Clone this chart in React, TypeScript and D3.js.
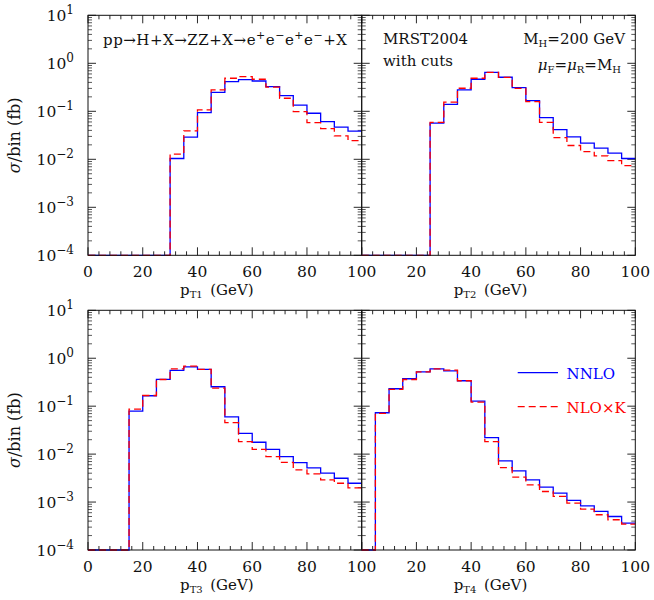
import React from 'react';
import * as d3 from 'd3';

// bin edges: 0..100 GeV in 5 GeV bins, values in fb per bin (0 = empty bin)
const binEdges = d3.range(0, 101, 5);

const nnloPT1 = [0, 0, 0, 0, 0, 0, 0.0104, 0.0289, 0.094, 0.249, 0.415, 0.456, 0.428, 0.327, 0.212, 0.134, 0.091, 0.061, 0.047, 0.0386];
const nloPT1 = [0, 0, 0, 0, 0, 0, 0.0128, 0.039, 0.107, 0.279, 0.488, 0.526, 0.465, 0.32, 0.187, 0.0986, 0.058, 0.0437, 0.0308, 0.0246];

const nnloPT2 = [0, 0, 0, 0, 0, 0.0566, 0.14, 0.279, 0.465, 0.65, 0.512, 0.311, 0.167, 0.074, 0.0417, 0.0294, 0.0217, 0.0171, 0.0135, 0.0104];
const nloPT2 = [0, 0, 0, 0, 0, 0.059, 0.155, 0.302, 0.488, 0.65, 0.51, 0.3, 0.159, 0.059, 0.0284, 0.0194, 0.0145, 0.0118, 0.0094, 0.0074];

const nnloPT3 = [0, 0, 0, 0.079, 0.165, 0.361, 0.556, 0.662, 0.583, 0.254, 0.06, 0.0272, 0.0177, 0.0126, 0.0089, 0.00667, 0.00516, 0.004, 0.00314, 0.00247];
const nloPT3 = [0, 0, 0, 0.087, 0.167, 0.36, 0.601, 0.684, 0.583, 0.238, 0.0453, 0.0182, 0.0126, 0.0089, 0.0067, 0.00469, 0.00387, 0.0029, 0.00247, 0.00198];

const nnloPT4 = [0, 0.073, 0.231, 0.373, 0.521, 0.601, 0.547, 0.339, 0.128, 0.0221, 0.00722, 0.00448, 0.0029, 0.00205, 0.00153, 0.00108, 0.000836, 0.000637, 0.0005, 0.000364];
const nloPT4 = [0, 0.071, 0.224, 0.36, 0.52, 0.6, 0.565, 0.339, 0.122, 0.0182, 0.00525, 0.0033, 0.00229, 0.00166, 0.00131, 0.00095, 0.000713, 0.000543, 0.000428, 0.000347];

const xTickLabels = [0, 20, 40, 60, 80, 100];
const decades = [-4, -3, -2, -1, 0, 1];

const panels = [
  { row: 0, col: 0, sub: 'T1', nnlo: nnloPT1, nlo: nloPT1 },
  { row: 0, col: 1, sub: 'T2', nnlo: nnloPT2, nlo: nloPT2 },
  { row: 1, col: 0, sub: 'T3', nnlo: nnloPT3, nlo: nloPT3 },
  { row: 1, col: 1, sub: 'T4', nnlo: nnloPT4, nlo: nloPT4 },
];

const colX = [[88, 361.7], [361.7, 635.3]];
const rowY = [[15.3, 255.3], [310.3, 550]];

const FONT = 'DejaVu Serif';
const INK = '#111';
const BLUE = '#0000ff';
const RED = '#ff0000';

const stepPath = (vals: number[], x: any, y: any) => {
  const pts = vals.map((v, i) => [binEdges[i], v]);
  pts.push([binEdges[binEdges.length - 1], vals[vals.length - 1]]);
  return d3.line<number[]>()
    .x(d => x(d[0]))
    .y(d => y(Math.max(d[1], 1e-4)))
    .curve(d3.curveStepAfter)(pts);
};

const Panel = ({ p }: any) => {
  const [x0, x1] = colX[p.col];
  const [y0, y1] = rowY[p.row];
  const x = d3.scaleLinear().domain([0, 100]).range([x0, x1]);
  const y = d3.scaleLog().domain([1e-4, 10]).range([y1, y0]).clamp(true);

  const xt = d3.range(0, 101, 4);
  const yMinor: number[] = [];
  decades.slice(0, -1).forEach(e => {
    for (let k = 2; k <= 9; k++) yMinor.push(k * Math.pow(10, e));
  });

  return (
    <g>
      {/* x ticks bottom and top */}
      {xt.map(v => {
        const len = v % 20 === 0 ? 8 : 4;
        return (
          <g key={'x' + v} stroke={INK} strokeWidth={0.9}>
            <line x1={x(v)} x2={x(v)} y1={y1} y2={y1 - len} />
            <line x1={x(v)} x2={x(v)} y1={y0} y2={y0 + len} />
          </g>
        );
      })}
      {/* y ticks left and right */}
      {decades.map(e => (
        <g key={'ym' + e} stroke={INK} strokeWidth={0.9}>
          <line x1={x0} x2={x0 + 8} y1={y(Math.pow(10, e))} y2={y(Math.pow(10, e))} />
          <line x1={x1} x2={x1 - 8} y1={y(Math.pow(10, e))} y2={y(Math.pow(10, e))} />
        </g>
      ))}
      {yMinor.map((v, i) => (
        <g key={'yn' + i} stroke={INK} strokeWidth={0.7}>
          <line x1={x0} x2={x0 + 4} y1={y(v)} y2={y(v)} />
          <line x1={x1} x2={x1 - 4} y1={y(v)} y2={y(v)} />
        </g>
      ))}

      <path d={stepPath(p.nnlo, x, y) || ''} fill="none" stroke={BLUE} strokeWidth={1.3} />
      <path d={stepPath(p.nlo, x, y) || ''} fill="none" stroke={RED} strokeWidth={1.3} strokeDasharray="7,4" />

      <rect x={x0} y={y0} width={x1 - x0} height={y1 - y0} fill="none" stroke={INK} strokeWidth={1} />

      {/* x tick labels */}
      {xTickLabels.filter(v => p.col === 0 || v !== 0).map(v => (
        <text key={'xl' + v} x={x(v)} y={y1 + 21.5} textAnchor="middle" fontSize={15.5} fill={INK}>{v}</text>
      ))}
      {/* y tick labels */}
      {p.col === 0 && decades.map(e => (
        <text key={'yl' + e} x={74} y={y(Math.pow(10, e)) + 5.5} textAnchor="end" fontSize={15.5} fill={INK}>
          10<tspan fontSize={12} dy={-7}>{e < 0 ? '\u2212' + (-e) : e}</tspan>
        </text>
      ))}
      {/* x axis title */}
      <text x={(x0 + x1) / 2 - 8} y={y1 + 39.5} textAnchor="middle" fontSize={15} fill={INK}>
        p<tspan fontSize={10} dy={3}>{p.sub}</tspan><tspan dy={-3}>{'\u2002(GeV)'}</tspan>
      </text>
      {/* y axis title */}
      {p.col === 0 && (
        <text transform={`translate(20,${(y0 + y1) / 2}) rotate(-90)`} textAnchor="middle" fontSize={16} fill={INK}>
          <tspan fontStyle="italic">σ</tspan>/bin (fb)
        </text>
      )}
    </g>
  );
};

const App = () => {
  const sup = (s: string) => <tspan fontSize={11} dy={-6}>{s}</tspan>;
  const down = (s: string) => <tspan dy={6}>{s}</tspan>;
  return (
    <div style={{ position: 'absolute', left: 0, top: 0 }}>
      <svg width={654} height={600} fontFamily={FONT} style={{ display: 'block', background: '#fff' }}>
        {panels.map((p, i) => <Panel key={i} p={p} />)}

        {/* process label */}
        <text x={103} y={44.5} fontSize={15} fill={INK} textLength={244} lengthAdjust="spacing">
          pp→H+X→ZZ+X→e{sup('+')}{down('e')}{sup('\u2212')}{down('e')}{sup('+')}{down('e')}{sup('\u2212')}{down('+X')}
        </text>
        <text x={383} y={44} fontSize={15} fill={INK}>MRST2004</text>
        <text x={383} y={65.5} fontSize={15} fill={INK}>with cuts</text>
        <text x={625} y={44} textAnchor="end" fontSize={15} fill={INK}>
          M<tspan fontSize={10} dy={3}>H</tspan><tspan dy={-3}>=200 GeV</tspan>
        </text>
        <text x={621} y={70} textAnchor="end" fontSize={15} fill={INK}>
          <tspan fontStyle="italic">μ</tspan><tspan fontSize={10} dy={3}>F</tspan><tspan dy={-3}>=</tspan>
          <tspan fontStyle="italic">μ</tspan><tspan fontSize={10} dy={3}>R</tspan><tspan dy={-3}>=M</tspan>
          <tspan fontSize={10} dy={3}>H</tspan>
        </text>

        {/* legend */}
        <line x1={517.7} x2={558} y1={372.7} y2={372.7} stroke={BLUE} strokeWidth={1.3} />
        <text x={566.5} y={379} fontSize={15} fill={BLUE}>NNLO</text>
        <line x1={517.7} x2={558} y1={406.7} y2={406.7} stroke={RED} strokeWidth={1.3} strokeDasharray="7,4" />
        <text x={566.5} y={413} fontSize={15} fill={RED}>NLO×K</text>
      </svg>
    </div>
  );
};

export default App;
